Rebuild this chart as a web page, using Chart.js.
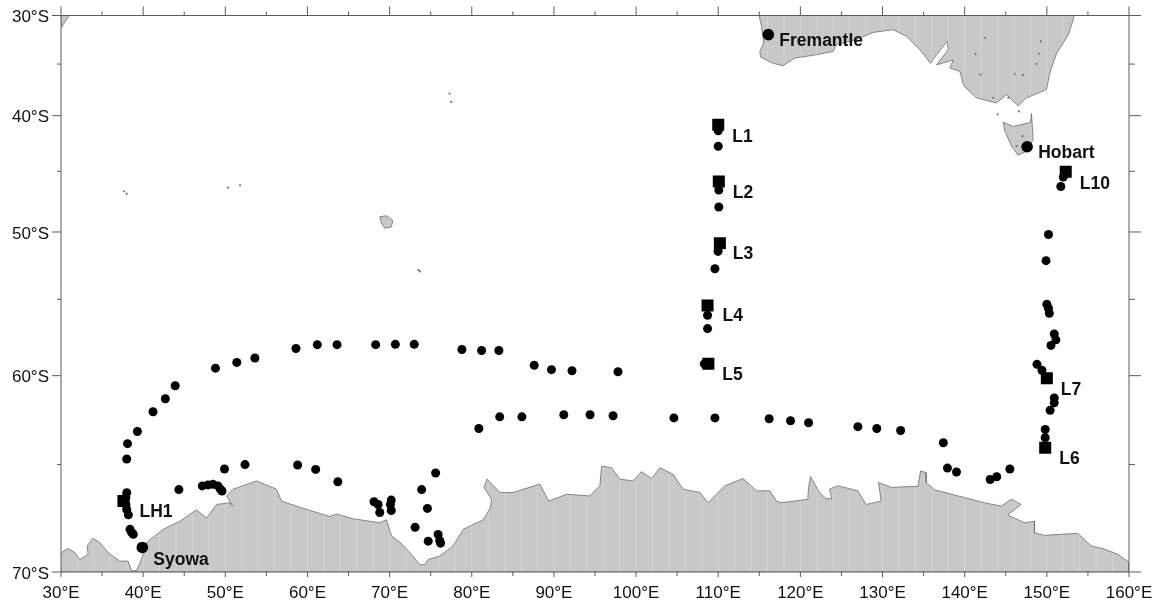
<!DOCTYPE html>
<html>
<head>
<meta charset="utf-8">
<title>Station map</title>
<style>
    html, body { margin: 0; padding: 0; background: #fff; }
    canvas { display: block; }
</style>
<script src="https://cdn.jsdelivr.net/npm/chart.js@4/dist/chart.umd.js"></script>
</head>
<body>
<canvas id="mapChart" width="1158" height="605"></canvas>
<script>
// axis ticks, degrees
const lonMajor = [30, 40, 50, 60, 70, 80, 90, 100, 110, 120, 130, 140, 150, 160];
const lonMinor = [35, 45, 55, 65, 75, 85, 95, 105, 115, 125, 135, 145, 155];
const latMajor = [30, 40, 50, 60, 70];
const latMinor = [35, 45, 55, 65];

// small circles
const stationLon = [110.0, 110.0, 110.07, 110.07, 109.98, 109.6, 108.7, 108.7, 108.3,
    152.0, 151.7, 150.2, 149.9, 150.0, 150.2, 150.3, 150.9, 151.1, 150.5, 148.8, 149.4, 150.9, 150.9, 150.4, 149.8, 149.8,
    80.86, 83.4, 86.1, 91.2, 94.4, 97.2, 104.6, 109.6, 116.2, 118.8, 121.0, 127.0, 129.3, 132.2, 137.4, 137.9, 139.0, 143.1, 143.9, 145.5,
    38.0, 38.1, 39.3, 41.2, 42.7, 43.9, 48.8, 51.4, 53.6, 58.6, 61.2, 63.6, 68.3, 70.7, 73.0, 78.8, 81.2, 83.3, 87.6, 89.7, 92.2, 97.8,
    38.0, 37.9, 37.9, 38.0, 38.2, 38.4, 38.6, 38.8,
    44.35, 47.2, 47.9, 48.5, 49.1, 49.4, 49.6, 49.9, 52.4, 58.8, 61.0, 63.7,
    68.1, 68.6, 68.8, 70.2, 70.1, 70.2, 75.6, 73.9, 74.6, 73.1, 75.9, 74.7, 76.1, 76.2];
const stationLat = [41.4, 42.8, 46.6, 48.0, 51.5, 52.8, 56.1, 57.0, 59.27,
    45.5, 46.3, 50.2, 52.2, 55.35, 55.63, 55.97, 57.36, 57.74, 58.1, 59.3, 59.67, 61.33, 61.62, 62.05, 63.13, 63.58,
    63.07, 62.42, 62.42, 62.3, 62.3, 62.36, 62.48, 62.48, 62.53, 62.64, 62.75, 62.97, 63.07, 63.18, 63.85, 65.18, 65.38, 65.76, 65.62, 65.23,
    64.71, 63.9, 63.24, 62.13, 61.38, 60.61, 59.54, 59.18, 58.9, 58.3, 58.05, 58.05, 58.05, 58.03, 58.03, 58.36, 58.43, 58.43, 59.36, 59.63, 59.7, 59.76,
    66.41, 66.65, 66.98, 67.22, 67.47, 68.14, 68.29, 68.36,
    66.26, 66.08, 66.03, 66.0, 66.08, 66.24, 66.33, 65.23, 65.0, 65.02, 65.25, 65.87,
    66.85, 66.98, 67.36, 66.77, 66.98, 67.27, 65.43, 66.26, 67.17, 68.05, 68.37, 68.67, 68.64, 68.76];

// square moorings
const mooringNames = ['L1', 'L2', 'L3', 'L4', 'L5', 'L6', 'L7', 'L10', 'LH1'];
const mooringLon = [110.0, 110.07, 110.2, 108.7, 108.8, 149.8, 150.0, 152.3, 37.6];
const mooringLat = [40.84, 45.88, 50.88, 55.43, 59.27, 64.12, 60.16, 45.03, 66.82];

// large circles
const portNames = ['Fremantle', 'Hobart', 'Syowa'];
const portLon = [116.1, 147.6, 39.9];
const portLat = [32.0, 42.84, 68.95];

// coastlines
const antarcticaLon = [30, 30.83, 31.68, 32.29, 33.3, 33.18, 33.91, 34.72, 35.73, 37.16, 38.17, 38.58, 39.19, 39.8, 40.41, 42.43, 44.46, 46.49, 47.71, 48.93, 50.55, 50.91, 50.15, 50.95, 53.8, 56.23, 56.84, 59.28, 62.72, 63.54, 65.52, 68.81, 69.62, 70.23, 71.24, 72.46, 73.68, 74.28, 74.69, 76.11, 77.73, 78.95, 81.38, 82.28, 82.4, 81.47, 81.87, 83.41, 85.03, 88.28, 89.38, 91.53, 94.37, 95.59, 95.8, 97.01, 98.02, 99.6, 100.66, 101.88, 102.89, 104.51, 105.73, 107.76, 108.77, 110.8, 113.03, 114.66, 116.28, 117.1, 117.66, 120.9, 121.0, 121.23, 122.33, 123.13, 123.83, 123.55, 124.56, 126.99, 128.0, 129.83, 129.51, 131.05, 134.3, 134.63, 135.31, 135.31, 136.33, 139.98, 142.42, 144.44, 145.66, 146.87, 145.25, 147.28, 148.5, 148.5, 149.72, 153.77, 155.39, 157.02, 158.64, 160, 160, 30];
const antarcticaLat = [69.19, 68.99, 69.17, 69.47, 69.25, 68.88, 68.54, 68.73, 69.17, 69.54, 69.54, 69.95, 69.94, 69.47, 68.73, 68.14, 67.77, 67.23, 67.62, 66.98, 66.9, 67.06, 66.57, 66.24, 65.83, 66.24, 66.82, 67.14, 67.55, 67.43, 67.65, 67.84, 67.7, 68.44, 68.71, 69.17, 69.69, 69.69, 69.47, 69.32, 68.88, 68.14, 67.7, 67.14, 66.73, 66.15, 65.74, 66.4, 66.4, 65.99, 66.82, 66.49, 66.57, 66.07, 65.08, 65.16, 65.74, 65.83, 65.36, 65.71, 65.16, 65.5, 66.24, 66.4, 66.9, 66.07, 65.71, 66.32, 66.32, 66.82, 66.9, 66.73, 66.15, 65.61, 66.4, 66.7, 66.7, 66.24, 66.07, 66.32, 66.98, 66.82, 65.91, 66.15, 66.1, 65.33, 65.41, 65.91, 66.27, 66.65, 66.9, 67.06, 66.73, 66.98, 67.48, 67.84, 67.77, 68.3, 68.41, 68.32, 68.88, 69.02, 69.25, 69.59, 70, 70];
const australiaLon = [114.98, 115.27, 115.55, 115.06, 115.15, 116.68, 117.9, 119.32, 121.97, 123.99, 124.4, 126.84, 128.86, 131.29, 132.92, 134.54, 135.84, 136.57, 137.87, 137.99, 136.57, 138.6, 138.19, 139.41, 139.9, 141.44, 143.87, 145.09, 146.5, 147.53, 149.96, 150.36, 151.18, 152.59, 153.2, 153.32];
const australiaLat = [30, 31.15, 32.86, 33.72, 34.3, 34.92, 35.16, 34.4, 34.06, 33.72, 33.03, 32.51, 31.77, 31.49, 32.18, 33.55, 34.92, 34.06, 32.69, 33.55, 35.08, 34.58, 35.41, 35.73, 37.17, 38.31, 38.8, 38.0, 39.06, 38.31, 37.51, 35.89, 33.94, 32.05, 30.46, 30];
const tasmaniaLon = [144.68, 145.9, 148.0, 148.13, 148.33, 147.53, 146.5, 145.7, 144.89, 144.68];
const tasmaniaLat = [40.59, 41.0, 40.63, 39.8, 42.19, 43.24, 43.6, 42.79, 41.44, 40.59];
const africaLon = [30, 31, 30, 30];
const africaLat = [30, 30, 31.3, 30];
const kerguelenLon = [68.8, 69.6, 70.4, 70.2, 69.4, 69.0, 68.8];
const kerguelenLat = [48.8, 48.7, 49.1, 49.6, 49.7, 49.3, 48.8];
// little islands and the lakes inside the land
const islandLon = [73.7, 73.5, 77.3, 77.5, 50.3, 51.8, 38.0, 37.7, 144.0, 146.6, 142.45, 149.27, 141.3, 149.03, 148.75, 141.93, 146.1, 147.1, 143.46, 145.3, 147.05, 146.31];
const islandLat = [53.0, 52.9, 37.9, 38.7, 46.4, 46.2, 46.9, 46.7, 39.87, 39.6, 32.35, 32.7, 33.99, 33.96, 34.99, 36.05, 35.96, 36.1, 38.31, 38.31, 41.89, 42.79];

// y axis is Mercator, so latitudes go through this before the linear scale
function merc(lat) {
    return Math.log(Math.tan(Math.PI / 4 + lat * Math.PI / 360));
}
function unmerc(m) {
    return (2 * Math.atan(Math.exp(m)) - Math.PI / 2) * 180 / Math.PI;
}
function toPoints(lons, lats) {
    return lons.map((lon, i) => ({ x: lon, y: merc(lats[i]) }));
}

const landShapes = [
    toPoints(antarcticaLon, antarcticaLat),
    toPoints(australiaLon, australiaLat),
    toPoints(tasmaniaLon, tasmaniaLat),
    toPoints(africaLon, africaLat),
    toPoints(kerguelenLon, kerguelenLat)
];

// pixel offset of each text from its mark
const mooringOffsets = [[14, 12], [14, 12], [13, 11], [15, 11], [14, 11], [14, 11], [14, 12], [14, 13], [16, 11]];
const portOffsets = [[11, 7], [11, 6], [11, 13]];

const landFill = {
    id: 'landFill',
    beforeDatasetsDraw(chart) {
        const { ctx, chartArea: a, scales: { x, y } } = chart;
        ctx.save();
        ctx.fillStyle = '#c8c8c8';
        ctx.beginPath();
        landShapes.forEach(shape => {
            shape.forEach((p, i) => {
                const px = x.getPixelForValue(p.x);
                const py = y.getPixelForValue(p.y);
                if (i === 0) ctx.moveTo(px, py);
                else ctx.lineTo(px, py);
            });
            ctx.closePath();
        });
        ctx.fill();
        // faint pale streaks the land fill has in the source map
        ctx.clip();
        ctx.strokeStyle = 'rgba(255,255,255,0.2)';
        ctx.lineWidth = 1;
        ctx.beginPath();
        for (let lon = 30; lon <= 160; lon += 2) {
            const px = x.getPixelForValue(lon);
            ctx.moveTo(px, a.top);
            ctx.lineTo(px, a.bottom);
        }
        ctx.stroke();
        ctx.restore();
    }
};

const frameAndText = {
    id: 'frameAndText',
    afterDraw(chart) {
        const { ctx, chartArea: a, scales: { x, y } } = chart;
        ctx.save();
        ctx.strokeStyle = '#5a5a5a';
        ctx.lineWidth = 1;
        ctx.beginPath();
        ctx.rect(a.left, a.top, a.right - a.left, a.bottom - a.top);

        function xTicks(list, top, bottom) {
            list.forEach(lon => {
                const px = x.getPixelForValue(lon);
                ctx.moveTo(px, a.top);
                ctx.lineTo(px, a.top - top);
                ctx.moveTo(px, a.bottom);
                ctx.lineTo(px, a.bottom + bottom);
            });
        }
        function yTicks(list, left, right) {
            list.forEach(lat => {
                const py = y.getPixelForValue(merc(lat));
                ctx.moveTo(a.left, py);
                ctx.lineTo(a.left - left, py);
                ctx.moveTo(a.right, py);
                ctx.lineTo(a.right + right, py);
            });
        }
        xTicks(lonMajor, 9, 5);
        xTicks(lonMinor, 4, 4);
        yTicks(latMajor, 9, 12);
        yTicks(latMinor, 4, 6);
        ctx.stroke();

        ctx.fillStyle = '#111';
        ctx.font = 'bold 17.5px "Liberation Sans"';
        ctx.textBaseline = 'middle';
        ctx.textAlign = 'left';
        function names(list, lons, lats, offsets) {
            list.forEach((name, i) => {
                const px = x.getPixelForValue(lons[i]) + offsets[i][0];
                const py = y.getPixelForValue(merc(lats[i])) + offsets[i][1];
                ctx.fillText(name, px, py);
            });
        }
        names(mooringNames, mooringLon, mooringLat, mooringOffsets);
        names(portNames, portLon, portLat, portOffsets);
        ctx.restore();
    }
};

const landDatasets = landShapes.map(shape => ({
    data: shape,
    showLine: true,
    fill: false,
    borderColor: '#6e6e6e',
    borderWidth: 0.8,
    pointRadius: 0,
    tension: 0,
    order: 5
}));

new Chart(document.getElementById('mapChart').getContext('2d'), {
    type: 'scatter',
    data: {
        datasets: landDatasets.concat([
            {
                label: 'Islands',
                data: toPoints(islandLon, islandLat),
                pointRadius: 1.1,
                backgroundColor: '#777',
                borderWidth: 0,
                order: 4
            },
            {
                label: 'Stations',
                data: toPoints(stationLon, stationLat),
                pointRadius: 4.5,
                backgroundColor: '#000',
                borderWidth: 0,
                order: 3
            },
            {
                label: 'Moorings',
                data: toPoints(mooringLon, mooringLat),
                pointStyle: 'rect',
                pointRadius: 8.5,
                backgroundColor: '#000',
                borderWidth: 0,
                order: 2
            },
            {
                label: 'Ports',
                data: toPoints(portLon, portLat),
                pointRadius: 5.8,
                backgroundColor: '#000',
                borderWidth: 0,
                order: 1
            }
        ])
    },
    options: {
        responsive: false,
        animation: false,
        layout: { padding: { top: 15.5, right: 29, left: 0, bottom: 0 } },
        plugins: {
            legend: { display: false },
            tooltip: { enabled: false }
        },
        scales: {
            x: {
                type: 'linear',
                min: 30,
                max: 160,
                afterFit: s => { s.height = 33; s.paddingLeft = 0; s.paddingRight = 0; },
                afterBuildTicks: s => { s.ticks = lonMajor.map(v => ({ value: v })); },
                grid: { display: false, drawTicks: false },
                border: { display: false },
                ticks: {
                    padding: 11,
                    color: '#111',
                    maxRotation: 0,
                    autoSkip: false,
                    font: { family: '"Liberation Sans"', size: 17 },
                    callback: v => v + '°E'
                }
            },
            y: {
                type: 'linear',
                reverse: true,
                min: merc(30),
                max: merc(70),
                afterFit: s => { s.width = 61; s.paddingTop = 0; s.paddingBottom = 0; },
                afterBuildTicks: s => { s.ticks = latMajor.map(v => ({ value: merc(v) })); },
                grid: { display: false, drawTicks: false },
                border: { display: false },
                ticks: {
                    padding: 12,
                    labelOffset: 2,
                    color: '#111',
                    autoSkip: false,
                    font: { family: '"Liberation Sans"', size: 17 },
                    callback: v => Math.round(unmerc(v)) + '°S'
                }
            }
        }
    },
    plugins: [landFill, frameAndText]
});
</script>
</body>
</html>
